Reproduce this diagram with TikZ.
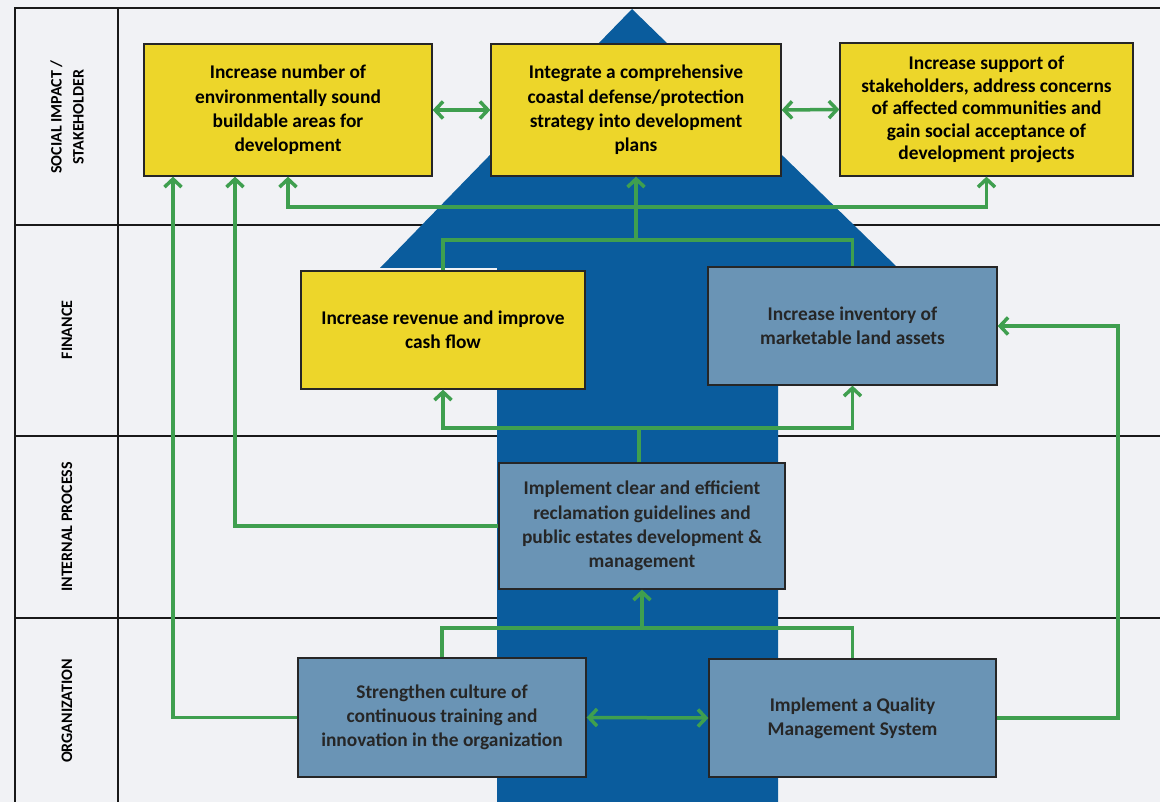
\documentclass[tikz,border=0pt]{standalone}
\usepackage{fontspec}
\setmainfont{Carlito}
\usetikzlibrary{arrows.meta,positioning}

\definecolor{paper}{HTML}{F1F2F5}
\definecolor{goalyellow}{HTML}{EDD62A}
\definecolor{taskblue}{HTML}{6A94B5}
\definecolor{bigblue}{HTML}{0A5C9D}
\definecolor{linkgreen}{HTML}{3F9F4F}

\begin{document}
\begin{tikzpicture}[x=1pt,y=-1pt,
  goal/.style={draw=black!85,line width=1.3pt,fill=goalyellow,align=center,
    inner sep=0pt,font=\bfseries\fontsize{19.4}{24.3}\selectfont},
  task/.style={goal,fill=taskblue,text=black!85},
  rowlabel/.style={rotate=90,align=center,font=\bfseries\fontsize{16}{22}\selectfont},
  frame/.style={draw=black!90,line width=1.8pt},
  link/.style={draw=linkgreen,line width=3.5pt},
  flow/.style={link,-{Straight Barb[length=8pt,width=17pt,line width=3.5pt]}},
  both/.style={link,{Straight Barb[length=8pt,width=17pt,line width=3.5pt]}-{Straight Barb[length=8pt,width=17pt,line width=3.5pt]}}]
\useasboundingbox (0,0) rectangle (1160,802);
\fill[paper] (0,0) rectangle (1160,802);

% table lines
\draw[frame] (15,802) -- (15,8) -- (1160,8);
\draw[frame] (118,8) -- (118,802);
\foreach \y in {225,436,618}
  \draw[frame] (15,\y) -- (1160,\y);

% row labels
\node[rowlabel] (social) at (67,117) {SOCIAL IMPACT /\\STAKEHOLDER};
\node[rowlabel] (finance) at (67,330) {FINANCE};
\node[rowlabel] (internal) at (67,527) {INTERNAL PROCESS};
\node[rowlabel] (organization) at (67,711) {ORGANIZATION};

% big arrow
\fill[bigblue] (632,9) -- (898,268) -- (778,268) -- (778,802) -- (497,802)
  -- (497,268) -- (380,268) -- cycle;

% objectives
\node[goal,minimum width=288pt,minimum height=132pt] (buildable) at (288,110)
  {Increase number of\\environmentally sound\\buildable areas for\\development};
\node[goal,minimum width=290pt,minimum height=132pt] (coastal) at (636,110)
  {Integrate a comprehensive\\coastal defense/protection\\strategy into development\\plans};
\node[goal,minimum width=293pt,minimum height=133pt,
  font=\bfseries\fontsize{19.4}{22.5}\selectfont] (support) at (986.5,109.5)
  {Increase support of\\stakeholders, address concerns\\of affected communities and\\gain social acceptance of\\development projects};
\node[goal,minimum width=284pt,minimum height=118pt] (revenue) at (443,330)
  {Increase revenue and improve\\cash flow};
\node[task,minimum width=289pt,minimum height=118pt] (inventory) at (852.5,326)
  {Increase inventory of\\marketable land assets};
\node[task,minimum width=286pt,minimum height=126pt] (reclaim) at (642,526)
  {Implement clear and efficient\\reclamation guidelines and\\public estates development \&\\management};
\node[task,minimum width=288pt,minimum height=119pt] (culture) at (442,717.5)
  {Strengthen culture of\\continuous training and\\innovation in the organization};
\node[task,minimum width=287pt,minimum height=118pt] (quality) at (852.5,718)
  {Implement a Quality\\Management System};

% bus points
\coordinate (finbus) at (636,240);
\coordinate (topbus) at (636,207);
\coordinate (lowbus) at (639,428);
\coordinate (orgbus) at (642,628);
\coordinate (rturn) at (1118,326);

% connectors
\draw[both] (buildable.east) -- (coastal.west);
\draw[both] (coastal.east) -- (support.west);
\draw[link] (revenue.north) |- (finbus) -| (inventory.north);
\draw[flow] (finbus) -- (coastal.south);
\draw[flow] (topbus) -| (buildable.south);
\draw[flow] (topbus) -| (support.south);
\draw[link] (reclaim.north -| lowbus) -- (lowbus);
\draw[flow] (lowbus) -| (revenue.south);
\draw[flow] (lowbus) -| (inventory.south);
\draw[link] (culture.north) |- (orgbus) -| (quality.north);
\draw[flow] (orgbus) -- (reclaim.south);
\draw[both] (culture.east) -- (quality.west);
\draw[flow] (culture.west) -| ([xshift=-115pt]buildable.south);
\draw[flow] (reclaim.west) -| ([xshift=-53pt]buildable.south);
\draw[flow] (quality.east) -| (rturn) -- (inventory.east);
\end{tikzpicture}
\end{document}
